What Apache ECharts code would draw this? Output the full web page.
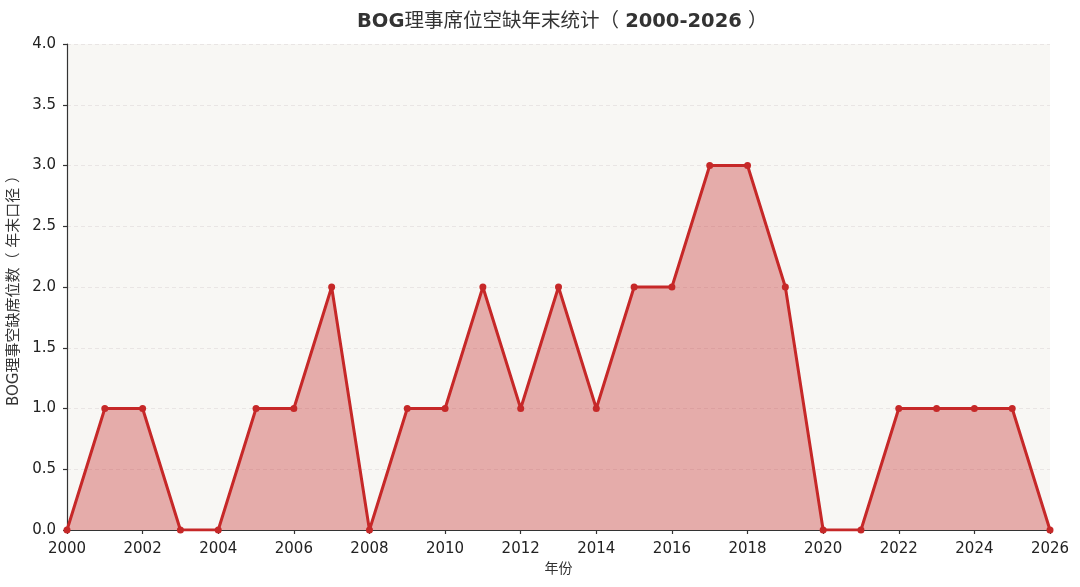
<!DOCTYPE html>
<html>
<head>
<meta charset="utf-8">
<script src="https://cdn.jsdelivr.net/npm/echarts@6/dist/echarts.min.js"></script>
<style>
  html, body { margin: 0; padding: 0; background: #fff; }
  #chart { width: 1080px; height: 587px; }
</style>
</head>
<body>
<div id="chart"></div>
<script>
var years = [2000, 2001, 2002, 2003, 2004, 2005, 2006, 2007, 2008, 2009, 2010, 2011, 2012, 2013,
  2014, 2015, 2016, 2017, 2018, 2019, 2020, 2021, 2022, 2023, 2024, 2025, 2026];
var vacancies = [0, 1, 1, 0, 0, 1, 1, 2, 0, 1, 1, 2, 1, 2,
  1, 2, 2, 3, 3, 2, 0, 0, 1, 1, 1, 1, 0];

var font = 'DejaVu Sans, Noto Sans CJK SC, sans-serif';
var lineColor = '#c62828';

var graph = echarts.init(document.getElementById('chart'));

// pair each year with its value for the numeric x axis
var points = years.map(function (y, i) { return [y, vacancies[i]]; });

graph.setOption({
  animation: false,
  title: {
    // latin parts bold, chinese parts regular like the original
    text: '{b|BOG}{n|理事席位空缺年末统计（ }{b|2000-2026}{n| ）}',
    left: 352,
    top: 7,
    textStyle: {
      rich: {
        b: { fontFamily: font, fontSize: 19.5, fontWeight: 'bold', color: '#333' },
        n: { fontFamily: font, fontSize: 19.5, fontWeight: 'normal', color: '#333' }
      }
    }
  },
  grid: {
    left: 67, right: 30, top: 44, bottom: 57,
    outerBoundsMode: 'none',   // keep the plot box exactly where it is
    backgroundColor: '#f8f7f4', show: true, borderWidth: 0
  },
  xAxis: {
    type: 'value',
    min: 2000, max: 2026, interval: 2,
    name: '年份', nameLocation: 'middle', nameGap: 31,
    nameTextStyle: { fontFamily: font, fontSize: 14, color: '#333' },
    axisLine: { lineStyle: { color: '#333', width: 1.2 } },
    axisTick: { show: true, length: 4, lineStyle: { color: '#333', width: 1.2 } },
    axisLabel: { fontFamily: font, fontSize: 15, color: '#222', margin: 12, formatter: function (v) { return String(v); } },
    splitLine: { show: false }
  },
  yAxis: {
    type: 'value',
    min: 0, max: 4, interval: 0.5,
    name: 'BOG理事空缺席位数（ 年末口径 ）', nameLocation: 'middle', nameGap: 41,
    nameTextStyle: { fontFamily: font, fontSize: 15, color: '#333' },
    axisLine: { show: true, lineStyle: { color: '#333', width: 1.2 } },
    axisTick: { show: true, length: 4, lineStyle: { color: '#333', width: 1.2 } },
    axisLabel: { fontFamily: font, fontSize: 15, color: '#222', margin: 11, formatter: function (v) { return v.toFixed(1); } },
    splitLine: { show: true, lineStyle: { color: '#e4dfdf', type: [4, 3], width: 0.8 } }
  },
  series: [{
    type: 'line',
    data: points,
    symbol: 'circle',
    symbolSize: 7,
    clip: true,
    lineStyle: { color: lineColor, width: 3 },
    itemStyle: { color: lineColor },
    areaStyle: { color: 'rgba(198,40,40,0.36)', opacity: 1, origin: 'start' },
    z: 3
  }]
});
</script>
</body>
</html>
